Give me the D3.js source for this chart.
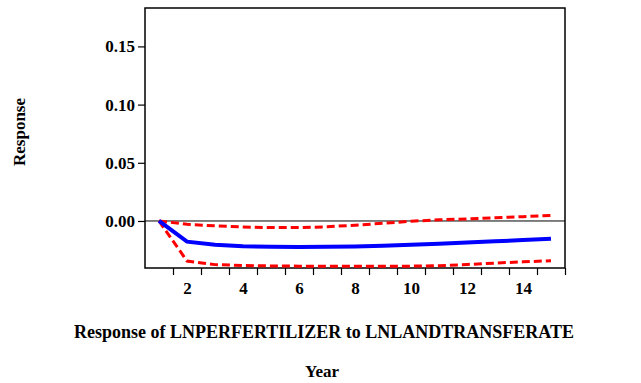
<!DOCTYPE html>
<html><head><meta charset="utf-8">
<script src="https://cdn.jsdelivr.net/npm/d3@7"></script>
<style>body{margin:0;background:#fff}svg{display:block}text{font-family:"Liberation Serif","Times New Roman",serif;font-weight:bold;fill:#000}</style>
</head><body>
<script>
const years = [1,2,3,4,5,6,7,8,9,10,11,12,13,14,15];
const response = [0,-0.0178,-0.0205,-0.0217,-0.0222,-0.0223,-0.0222,-0.0219,-0.0213,-0.0204,-0.0195,-0.0185,-0.0175,-0.0164,-0.0152];
const upperBand = [0,-0.0028,-0.0042,-0.0052,-0.0057,-0.0057,-0.0050,-0.0036,-0.0020,-0.0002,0.0010,0.0018,0.0028,0.0037,0.0048];
const lowerBand = [0,-0.0344,-0.0375,-0.0383,-0.0386,-0.0388,-0.0389,-0.0389,-0.0389,-0.0388,-0.0384,-0.0374,-0.0362,-0.0351,-0.0341];
const yTicks = [0.00,0.05,0.10,0.15];
const xTickLabels = [2,4,6,8,10,12,14];
const xTickMarks = [1.5,2.5,3.5,4.5,5.5,6.5,7.5,8.5,9.5,10.5,11.5,12.5,13.5,14.5,15.5];
const title = "Response of LNPERFERTILIZER to LNLANDTRANSFERATE";

const W=641,H=383;
const L=145,R=565,T=8,B=268;
const svg=d3.select("body").append("svg").attr("width",W).attr("height",H);
const x=d3.scaleLinear().domain([0.5,15.5]).range([L,R]);
const y=d3.scaleLinear().domain([-0.0404,0.183]).range([B,T]);

// y axis
const yAx=svg.append("g").attr("transform",`translate(${L},0)`)
  .call(d3.axisLeft(y).tickValues(yTicks).tickFormat(d3.format(".2f")).tickSize(7).tickPadding(3));
yAx.select(".domain").remove();
yAx.selectAll("line").attr("stroke","#000").attr("stroke-width",1.2);
yAx.selectAll("text").style("font-size","17px").attr("font-family","Liberation Serif").attr("font-weight","bold");

// x axis tick marks
const xAx=svg.append("g").attr("transform",`translate(0,${B})`)
  .call(d3.axisBottom(x).tickValues(xTickMarks).tickFormat("").tickSize(7));
xAx.select(".domain").remove();
xAx.selectAll("line").attr("stroke","#000").attr("stroke-width",1.2);
// x labels
const xLab=svg.append("g").attr("transform",`translate(0,${B})`)
  .call(d3.axisBottom(x).tickValues(xTickLabels).tickFormat(d3.format("d")).tickSize(0).tickPadding(14));
xLab.select(".domain").remove();
xLab.selectAll("text").style("font-size","17px").attr("font-family","Liberation Serif").attr("font-weight","bold");

// frame
svg.append("rect").attr("x",L).attr("y",T).attr("width",R-L).attr("height",B-T)
  .attr("fill","none").attr("stroke","#000").attr("stroke-width",1.5);
// zero line
svg.append("line").attr("x1",L).attr("x2",R).attr("y1",y(0)).attr("y2",y(0)).attr("stroke","#000").attr("stroke-width",1);

const line=d3.line().x((d,i)=>x(years[i])).y(d=>y(d));
svg.append("path").datum(upperBand).attr("d",line).attr("fill","none").attr("stroke","#ff0000").attr("stroke-width",3).attr("stroke-dasharray","8,4");
svg.append("path").datum(lowerBand).attr("d",line).attr("fill","none").attr("stroke","#ff0000").attr("stroke-width",3).attr("stroke-dasharray","8,4");
svg.append("path").datum(response).attr("d",line).attr("fill","none").attr("stroke","#0000ff").attr("stroke-width",4);

svg.append("text").attr("x",19).attr("y",132).attr("text-anchor","middle").attr("dominant-baseline","central")
  .attr("transform","rotate(-90,19,132)").style("font-size","17px").text("Response");
svg.append("text").attr("x",324).attr("y",338).attr("text-anchor","middle").style("font-size","18px").text(title);
svg.append("text").attr("x",322).attr("y",377).attr("text-anchor","middle").style("font-size","17px").text("Year");
</script>
</body></html>
